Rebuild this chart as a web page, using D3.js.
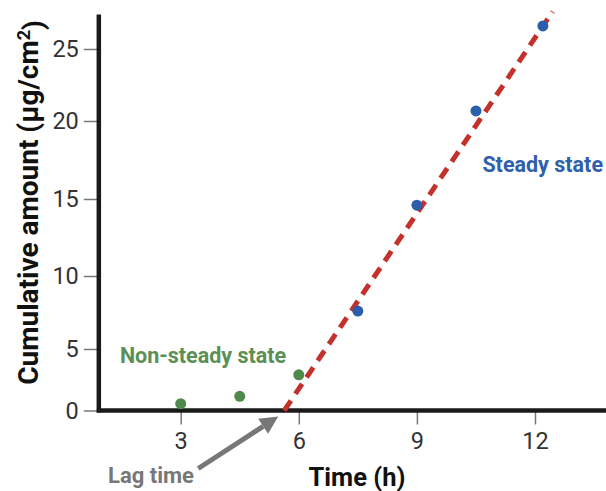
<!DOCTYPE html>
<html>
<head>
<meta charset="utf-8">
<script src="https://cdn.jsdelivr.net/npm/d3@7"></script>
<style>
  html, body { margin: 0; padding: 0; background: #fff; }
  svg { display: block; font-family: Roboto, "Noto Sans", sans-serif; }
</style>
</head>
<body>
<svg id="chart" width="606" height="491"></svg>
<script>
// ---- data ----
const nonSteadyTime = [3, 4.5, 6];
const nonSteadyAmount = [0.55, 1.15, 2.9];
const steadyTime = [7.5, 9, 10.5, 12.2];
const steadyAmount = [7.6, 14.6, 20.7, 26.6];
const fitTime = [5.63, 12.45];          // regression line: lag time -> end
const fitAmount = [0, 27.6];
const lagTime = 5.63;
const xTicks = [3, 6, 9, 12];
const yTicks = [0, 5, 10, 15, 20, 25];
const xLimits = [0.92, 13.9];
const yLimits = [0, 27.4];

// ---- layout ----
const svg = d3.select("#chart");
const x = d3.scaleLinear().domain([3, 12]).range([180.7, 535]);
// the drawn axis is slightly uneven; follow its tick positions
const y = d3.scaleLinear().domain(yTicks).range([410.5, 349, 276, 199, 121, 49]);

const tickColor = "#777";
const labelColor = "#333";

// y axis ticks
const yAxis = svg.append("g")
  .attr("transform", `translate(${x(xLimits[0])},0)`)
  .call(d3.axisLeft(y).tickValues(yTicks).tickSize(15).tickPadding(5).tickSizeOuter(0));
yAxis.select(".domain").remove();
yAxis.selectAll(".tick line").attr("stroke", tickColor).attr("stroke-width", 1.5);
yAxis.selectAll(".tick text").attr("fill", labelColor).style("font-size", "23.5px").attr("font-family", "Roboto");

// x axis ticks
const xAxis = svg.append("g")
  .attr("transform", `translate(0,${y(0)})`)
  .call(d3.axisBottom(x).tickValues(xTicks).tickSize(14).tickPadding(8).tickSizeOuter(0));
xAxis.select(".domain").remove();
xAxis.selectAll(".tick line").attr("stroke", tickColor).attr("stroke-width", 1.5);
xAxis.selectAll(".tick text").attr("fill", labelColor).style("font-size", "23.5px").attr("font-family", "Roboto");

// axis lines
svg.append("line")
  .attr("x1", x(xLimits[0])).attr("x2", x(xLimits[0]))
  .attr("y1", y(yLimits[1])).attr("y2", y(0) + 2)
  .attr("stroke", "#1a1a1a").attr("stroke-width", 4.5);
svg.append("line")
  .attr("x1", x(xLimits[0]) - 2).attr("x2", x(xLimits[1]))
  .attr("y1", y(0)).attr("y2", y(0))
  .attr("stroke", "#1a1a1a").attr("stroke-width", 4.5);

// fit line
const fitData = fitTime.map((t, i) => [t, fitAmount[i]]);
svg.append("path")
  .datum(fitData)
  .attr("d", d3.line().x(d => x(d[0])).y(d => y(d[1])))
  .attr("fill", "none")
  .attr("stroke", "#c4312c")
  .attr("stroke-width", 5)
  .attr("stroke-dasharray", "12,8");

// points
svg.append("g").selectAll("circle")
  .data(nonSteadyTime.map((t, i) => [t, nonSteadyAmount[i]]))
  .join("circle")
  .attr("cx", d => x(d[0])).attr("cy", d => y(d[1])).attr("r", 5.5)
  .attr("fill", "#4f8a4b");
svg.append("g").selectAll("circle")
  .data(steadyTime.map((t, i) => [t, steadyAmount[i]]))
  .join("circle")
  .attr("cx", d => x(d[0])).attr("cy", d => y(d[1])).attr("r", 5.5)
  .attr("fill", "#2b5fae");

// annotations
svg.append("text")
  .attr("x", 203).attr("y", 363)
  .attr("text-anchor", "middle")
  .attr("fill", "#5b8f56")
  .style("font-size", "21.5px").style("font-weight", "bold")
  .text("Non-steady state");
svg.append("text")
  .attr("x", 603).attr("y", 172)
  .attr("text-anchor", "end")
  .attr("fill", "#2f60aa")
  .style("font-size", "21.5px").style("font-weight", "bold")
  .text("Steady state");

// lag time arrow
const tipX = x(lagTime) - 6, tipY = y(0) + 6;
const tailX = tipX - 80, tailY = tipY + 52;
const ang = Math.atan2(tipY - tailY, tipX - tailX);
const headLen = 18, headW = 9;
const baseX = tipX - headLen * Math.cos(ang), baseY = tipY - headLen * Math.sin(ang);
svg.append("line")
  .attr("x1", tailX).attr("y1", tailY).attr("x2", baseX).attr("y2", baseY)
  .attr("stroke", "#777").attr("stroke-width", 5);
svg.append("path")
  .attr("d", `M${tipX},${tipY} L${baseX - headW * Math.sin(ang)},${baseY + headW * Math.cos(ang)} L${baseX + headW * Math.sin(ang)},${baseY - headW * Math.cos(ang)} Z`)
  .attr("fill", "#777");
svg.append("text")
  .attr("x", 108).attr("y", 483)
  .attr("fill", "#777")
  .style("font-size", "22px").style("font-weight", "bold")
  .text("Lag time");

// axis titles
svg.append("text")
  .attr("x", 357).attr("y", 486)
  .attr("text-anchor", "middle")
  .attr("fill", "#111")
  .style("font-size", "25.5px").style("font-weight", "bold")
  .text("Time (h)");
const yt = svg.append("text")
  .attr("transform", `translate(38,${(y(0) + y(yLimits[1])) / 2 - 10}) rotate(-90)`)
  .attr("text-anchor", "middle")
  .attr("fill", "#111")
  .style("font-size", "28px").style("font-weight", "bold");
yt.append("tspan").text("Cumulative amount (μg/cm");
yt.append("tspan").attr("dy", "-0.45em").style("font-size", "18px").text("2");
yt.append("tspan").attr("dy", "0.45em").text(")");
</script>
</body>
</html>
